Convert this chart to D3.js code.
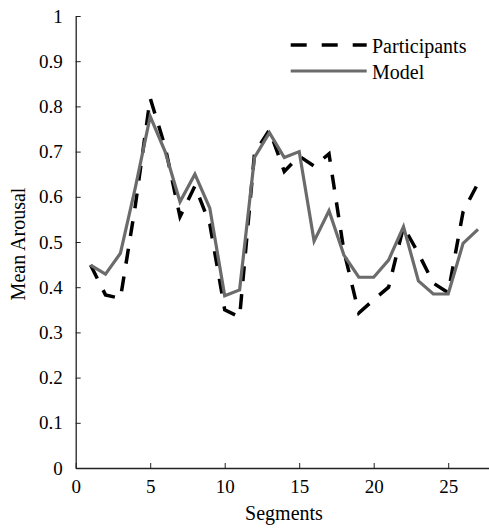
<!DOCTYPE html>
<html>
<head>
<meta charset="utf-8">
<script src="https://cdn.jsdelivr.net/npm/d3@7"></script>
<style>
  body { margin: 0; background: #fff; }
  text { font-family: "Liberation Serif", "Times New Roman", Times, serif; fill: #000; }
</style>
</head>
<body>
<svg id="chart" width="489" height="531"></svg>
<script>
// segment numbers 1..27
var segments = [1,2,3,4,5,6,7,8,9,10,11,12,13,14,15,16,17,18,19,20,21,22,23,24,25,26,27];
var participants = [0.449,0.383,0.375,0.58,0.818,0.711,0.556,0.624,0.54,0.350,0.334,0.696,0.748,
  0.656,0.690,0.668,0.695,0.480,0.343,0.372,0.400,0.534,0.475,0.409,0.388,0.567,0.630];
var model = [0.449,0.429,0.475,0.62,0.778,0.700,0.589,0.650,0.575,0.381,0.394,0.687,0.742,
  0.687,0.700,0.502,0.569,0.471,0.422,0.422,0.460,0.534,0.414,0.385,0.385,0.497,0.528];
var xTicks = [0,5,10,15,20,25];
var yTicks = [0,0.1,0.2,0.3,0.4,0.5,0.6,0.7,0.8,0.9,1];
var legendLabels = ['Participants', 'Model'];

var svg = d3.select('#chart');
var x = d3.scaleLinear().domain([0, 28]).range([75.7, 492.9]);
var y = d3.scaleLinear().domain([0, 1]).range([468, 16]);

var axisColor = '#222';
var serif = '"Liberation Serif", "Times New Roman", Times, serif';

// y axis, ticks pointing inward
var yAxis = svg.append('g')
  .attr('transform', 'translate(' + x(0) + ',0)')
  .call(d3.axisLeft(y).tickValues(yTicks).tickSizeInner(-5).tickSizeOuter(0)
    .tickPadding(13).tickFormat(function(d){ return d === 0 || d === 1 ? d3.format('d')(d) : d3.format('.1f')(d); }));

var xAxis = svg.append('g')
  .attr('transform', 'translate(0,' + y(0) + ')')
  .call(d3.axisBottom(x).tickValues(xTicks).tickSizeInner(-5).tickSizeOuter(0)
    .tickPadding(12).tickFormat(d3.format('d')));

[yAxis, xAxis].forEach(function(a) {
  a.attr('font-family', serif);
  a.select('.domain').attr('stroke', axisColor).attr('stroke-width', 1.3);
  a.selectAll('.tick line').attr('stroke', axisColor).attr('stroke-width', 1);
  a.selectAll('.tick text').style('font-family', serif)
    .style('font-size', '19px').attr('fill', '#000');
});

var line = function(vals) {
  return d3.line()
    .x(function(d, i){ return x(segments[i]); })
    .y(function(d){ return y(d); })(vals);
};

svg.append('path')
  .attr('d', line(participants))
  .attr('fill', 'none')
  .attr('stroke', '#000')
  .attr('stroke-width', 3.5)
  .attr('stroke-dasharray', '15 13');

svg.append('path')
  .attr('d', line(model))
  .attr('fill', 'none')
  .attr('stroke', '#6b6b6b')
  .attr('stroke-width', 3.2)
  .attr('stroke-linejoin', 'miter');

// legend
var legend = svg.append('g');
legend.append('line')
  .attr('x1', 290.7).attr('x2', 366.7).attr('y1', 45).attr('y2', 45)
  .attr('stroke', '#000').attr('stroke-width', 3.5).attr('stroke-dasharray', '16 15');
legend.append('line')
  .attr('x1', 290.7).attr('x2', 366.7).attr('y1', 71).attr('y2', 71)
  .attr('stroke', '#6b6b6b').attr('stroke-width', 3.2);
legend.selectAll('text.leg').data(legendLabels).enter()
  .append('text')
  .attr('class', 'leg')
  .attr('x', 372)
  .attr('y', function(d, i){ return 52.5 + i * 26; })
  .style('font-family', serif)
  .style('font-size', '20px')
  .text(function(d){ return d; });

svg.append('text')
  .attr('x', 284).attr('y', 520)
  .attr('text-anchor', 'middle')
  .style('font-family', serif)
  .style('font-size', '20px')
  .text('Segments');

svg.append('text')
  .attr('transform', 'translate(25,244) rotate(-90)')
  .attr('text-anchor', 'middle')
  .style('font-family', serif)
  .style('font-size', '20px')
  .text('Mean Arousal');
</script>
</body>
</html>
